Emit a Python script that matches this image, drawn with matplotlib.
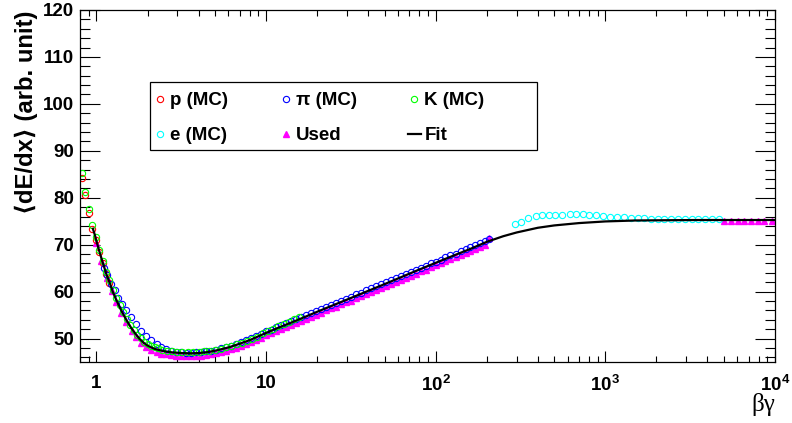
import numpy as np
import matplotlib.pyplot as plt
from matplotlib.patches import Rectangle
from matplotlib.ticker import FixedLocator, FixedFormatter, LogLocator, MultipleLocator, NullFormatter

plt.rcParams['font.family'] = ['Liberation Sans', 'DejaVu Sans']
plt.rcParams['font.weight'] = 'bold'
plt.rcParams['mathtext.fontset'] = 'custom'
plt.rcParams['mathtext.rm'] = 'Liberation Sans:bold'
plt.rcParams['mathtext.bf'] = 'Liberation Sans:bold'
plt.rcParams['mathtext.it'] = 'Liberation Sans:bold'

# common betagamma bins above ~5.8
bg_bins = [5.82, 6.23, 6.66, 7.13, 7.63, 8.16, 8.73, 9.34, 10.0, 10.7, 11.4, 12.3, 13.1, 14.0,
           15.0, 16.1, 17.2, 18.4, 19.7, 21.1, 22.5, 24.1, 25.8, 27.6, 29.6, 31.6, 33.8, 36.2,
           38.7, 41.4, 44.3, 47.4, 50.8, 54.3, 58.1, 62.2, 66.5, 71.2, 76.2, 81.5, 87.2, 93.3,
           99.8, 107, 114, 122, 131, 140, 150, 160, 171, 183, 196, 207]

# protons (MC)
bg_p = [0.825, 0.859, 0.900, 0.945, 0.990, 1.04, 1.09, 1.14, 1.19]
dedx_p = [84.3, 80.5, 76.8, 73.4, 71.0, 68.4, 66.0, 63.7, 61.9]

# kaons (MC)
bg_k = [0.825, 0.859, 0.900, 0.945, 0.990, 1.04, 1.09, 1.14, 1.19, 1.25, 1.31, 1.37, 1.44,
        1.51, 1.58, 1.66, 1.74, 1.82, 1.91, 2.00, 2.10, 2.20, 2.30, 2.45, 2.60, 2.80, 3.00,
        3.20, 3.45, 3.70, 4.00, 4.30, 4.60, 5.00, 5.40, 5.80, 6.20, 6.70, 7.20, 7.70, 8.30,
        8.90, 9.60, 10.3, 11.0, 11.8, 12.7, 13.6, 14.6, 15.7]
dedx_k = [85.2, 81.3, 77.5, 74.1, 71.6, 68.9, 66.5, 64.2, 62.4, 60.3, 58.6, 57.1, 55.6,
          54.2, 52.9, 51.8, 50.8, 50.1, 49.3, 48.8, 48.4, 48.1, 47.9, 47.6, 47.45, 47.3, 47.2,
          47.15, 47.1, 47.1, 47.2, 47.3, 47.4, 47.6, 47.85, 48.15, 48.4, 48.8, 49.15, 49.5, 50.0,
          50.4, 51.1, 51.7, 52.1, 52.6, 53.1, 53.6, 54.1, 54.6]

# pions (MC)
bg_pi = [1.11, 1.16, 1.22, 1.28, 1.34, 1.41, 1.50, 1.60, 1.72, 1.84, 1.97, 2.11, 2.26,
         2.41, 2.58, 2.76, 2.96, 3.16, 3.39, 3.62, 3.88, 4.15, 4.44, 4.75, 5.08, 5.44] + bg_bins
dedx_pi = [65.1, 63.5, 61.7, 60.3, 58.7, 57.3, 56.0, 54.6, 53.0, 51.7, 50.6, 49.6, 48.9,
           48.3, 47.7, 47.35, 47.2, 47.1, 47.0, 47.0, 47.1, 47.2, 47.3, 47.45, 47.65, 47.9,
           48.2, 48.5, 48.8, 49.2, 49.6, 50.05, 50.5, 51.0, 51.5, 51.9, 52.4, 52.8, 53.25, 53.7,
           54.1, 54.6, 55.0, 55.4, 55.9, 56.3, 56.8, 57.2, 57.6, 58.1, 58.5, 58.9, 59.4, 59.8,
           60.3, 60.7, 61.1, 61.6, 62.0, 62.5, 62.9, 63.3, 63.8, 64.2, 64.6, 65.1, 65.5, 66.0,
           66.4, 66.8, 67.3, 67.7, 68.1, 68.6, 69.0, 69.4, 69.9, 70.3, 70.8, 71.2]

# electrons (MC)
bg_e = [292, 319, 349, 388, 424, 464, 508, 557, 615, 673, 736, 806, 883, 975, 1072, 1173,
        1283, 1419, 1552, 1699, 1862, 2036, 2229, 2443, 2698, 2951, 3228, 3540, 3873, 4236, 4654]
dedx_e = [74.5, 74.9, 75.6, 76.1, 76.3, 76.35, 76.4, 76.4, 76.5, 76.6, 76.5, 76.4, 76.35, 76.1,
          75.9, 75.85, 75.8, 75.7, 75.6, 75.6, 75.5, 75.5, 75.45, 75.45, 75.4, 75.4, 75.4, 75.4,
          75.4, 75.4, 75.4]

# points used in the fit
bg_used = ([1.00, 1.07, 1.15, 1.23, 1.31, 1.40, 1.50, 1.61, 1.72, 1.84, 1.97, 2.11, 2.26,
            2.41, 2.58, 2.76, 2.96, 3.16, 3.39, 3.62, 3.88, 4.15, 4.44, 4.75, 5.08, 5.44]
           + bg_bins + [5010, 5510, 6030, 6600, 7230, 7910, 8650, 9600])
dedx_used = [70.3, 66.6, 63.0, 60.1, 57.7, 55.5, 53.5, 51.7, 50.3, 49.1, 48.2, 47.6, 47.1,
             46.8, 46.6, 46.45, 46.35, 46.3, 46.25, 46.25, 46.3, 46.35, 46.45, 46.6, 46.9, 47.1,
             47.4, 47.7, 48.0, 48.4, 48.8, 49.25, 49.7, 50.2, 50.7, 51.1, 51.6, 52.0, 52.45, 52.9,
             53.3, 53.8, 54.2, 54.6, 55.1, 55.5, 56.0, 56.4, 56.8, 57.3, 57.7, 58.1, 58.6, 59.0,
             59.5, 59.9, 60.3, 60.8, 61.2, 61.7, 62.1, 62.5, 63.0, 63.4, 63.8, 64.3, 64.7, 65.2,
             65.6, 66.0, 66.5, 66.9, 67.3, 67.8, 68.2, 68.6, 69.1, 69.5, 70.0, 71.4,
             74.95, 74.95, 74.95, 74.95, 74.95, 74.95, 74.95, 75.1]

# fitted curve
bg_fit = [0.953, 0.98, 1.0, 1.03, 1.06, 1.1, 1.15, 1.2, 1.25, 1.3, 1.35, 1.4, 1.5, 1.6, 1.7,
          1.8, 1.9, 2.0, 2.2, 2.5, 2.8, 3.2, 3.6, 4.0, 4.5, 5.0, 6.0, 7.0, 8.0, 10, 12, 15, 20,
          30, 50, 80, 120, 160, 200, 250, 300, 400, 500, 700, 1000, 1500, 2200, 3500, 6000, 10000]
dedx_fit = [73.4, 72.0, 70.8, 69.1, 67.6, 65.7, 63.5, 61.8, 59.9, 58.5, 57.2, 56.0, 54.0, 52.3,
            51.0, 49.9, 49.1, 48.5, 47.8, 47.3, 47.05, 46.9, 46.85, 46.9, 47.1, 47.4, 48.1, 48.9,
            49.65, 51.2, 52.4, 53.8, 55.7, 58.3, 61.6, 64.7, 67.3, 69.1, 70.6, 71.8, 72.6, 73.6,
            74.1, 74.6, 74.95, 75.15, 75.2, 75.25, 75.25, 75.25]

xticks = [1, 10, 100, 1000, 10000]
xticklabels = ['1', '10', '$10^{2}$', '$10^{3}$', '$10^{4}$']

fig = plt.figure(figsize=(7.92, 4.23), dpi=100)
ax = fig.add_axes([80/792, 1-362/423, 695/792, 352/423])

circ = dict(ls='none', marker='o', ms=4.5, mfc='none', mew=0.8)
h_used, = ax.plot(bg_used, dedx_used, ls='none', marker='^', ms=5, color='#ff00ff', mec='#ff00ff', label='Used')
h_p, = ax.plot(bg_p, dedx_p, mec='#ff0000', label='p (MC)', **circ)
h_pi, = ax.plot(bg_pi, dedx_pi, mec='#0000ff', label='π (MC)', **circ)
h_k, = ax.plot(bg_k, dedx_k, mec='#00ff00', label='K (MC)', **circ)
h_e, = ax.plot(bg_e, dedx_e, mec='#00ffff', label='e (MC)', **circ)
h_fit, = ax.plot(bg_fit, dedx_fit, color='k', lw=1.6, label='Fit')

ax.set_xscale('log')
ax.set_xlim(0.8, 1e4)
ax.set_ylim(45, 120)

ax.xaxis.set_major_locator(FixedLocator(xticks))
ax.xaxis.set_major_formatter(FixedFormatter(xticklabels))
ax.xaxis.set_minor_locator(LogLocator(base=10, subs=np.arange(2, 10)))
ax.xaxis.set_minor_formatter(NullFormatter())
ax.yaxis.set_major_locator(MultipleLocator(10))
ax.yaxis.set_minor_locator(MultipleLocator(2))

ax.tick_params(which='both', direction='in', top=True, right=True, width=0.8, labelsize=13.5)
ax.tick_params(axis='x', which='major', length=7.7, pad=9)
ax.tick_params(axis='x', which='minor', length=4)
ax.tick_params(axis='y', which='major', length=14.4, pad=4)
ax.tick_params(axis='y', which='minor', length=7.2)
for s in ax.spines.values():
    s.set_linewidth(0.9)

# legend box
ax.add_patch(Rectangle((0.1007, 0.6023), 0.5569, 0.1932, transform=ax.transAxes,
                       facecolor='white', edgecolor='black', lw=0.9, zorder=4))
leg = ax.legend(handles=[h_p, h_e, h_pi, h_used, h_k, h_fit], ncol=3, frameon=False,
                loc='upper left', bbox_to_anchor=(0.1058, 0.767), borderpad=0, borderaxespad=0,
                fontsize=13.5, handlelength=0.7, handletextpad=0.2, columnspacing=2.7,
                labelspacing=0.96)
leg.set_zorder(5)

fig.text(26/792, 1-10/423, '⟨dE/dx⟩ (arb. unit)', rotation=90, ha='center', va='top',
         fontsize=17.2, fontweight='bold')
fig.text(775/792, 1-404/423, 'βγ', ha='right', va='center', fontsize=18,
         family='Liberation Serif', fontweight='normal')

plt.savefig('out.png', dpi=100)
